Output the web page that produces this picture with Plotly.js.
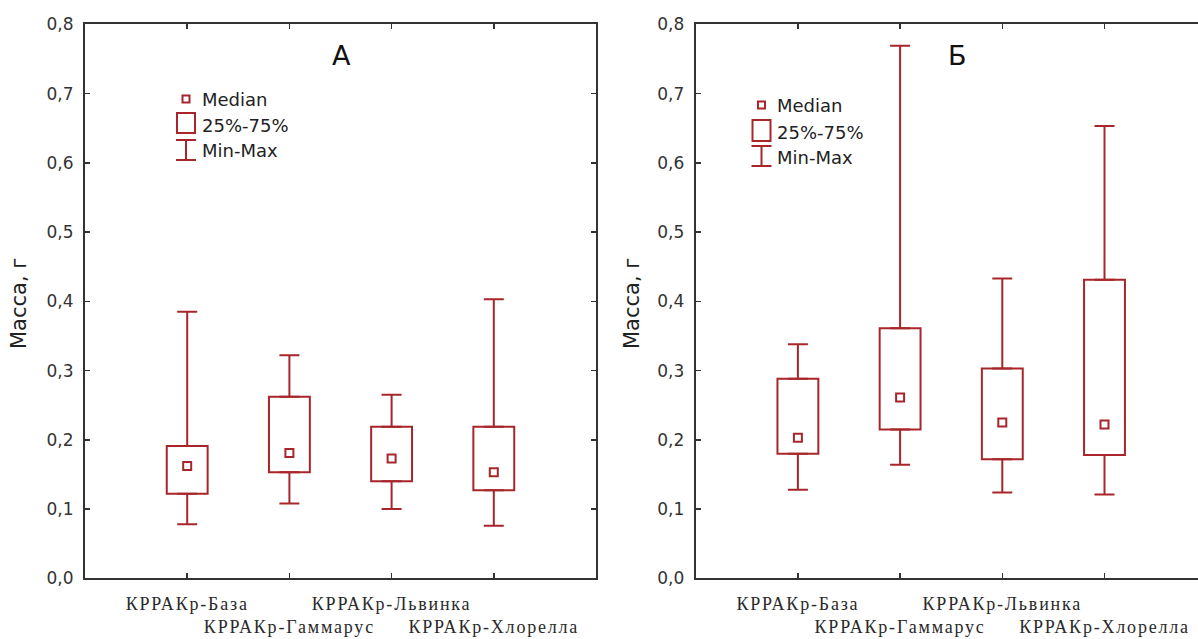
<!DOCTYPE html>
<html>
<head>
<meta charset="utf-8">
<script src="https://cdn.plot.ly/plotly-3.0.1.min.js"></script>
<style>
html,body{margin:0;padding:0;background:#fff;}
#chart{width:1198px;height:639px;}
.xtick text, .x2tick text { letter-spacing: 1.8px; }
</style>
</head>
<body>
<div id="chart"></div>
<script>
// ---- data ----
const categories = ['КРРАКр-База', 'КРРАКр-Гаммарус', 'КРРАКр-Львинка', 'КРРАКр-Хлорелла'];
const tickLabels = ['КРРАКр-База', '<br>КРРАКр-Гаммарус', 'КРРАКр-Львинка', '<br>КРРАКр-Хлорелла'];
const yTickVals = [0, 0.1, 0.2, 0.3, 0.4, 0.5, 0.6, 0.7, 0.8];

// Panel А
const aMin    = [0.078, 0.108, 0.100, 0.076];
const aQ1     = [0.122, 0.153, 0.140, 0.127];
const aMedian = [0.162, 0.181, 0.173, 0.153];
const aQ3     = [0.191, 0.262, 0.219, 0.219];
const aMax    = [0.385, 0.322, 0.265, 0.403];

// Panel Б
const bMin    = [0.128, 0.164, 0.124, 0.121];
const bQ1     = [0.180, 0.215, 0.172, 0.178];
const bMedian = [0.203, 0.261, 0.225, 0.222];
const bQ3     = [0.288, 0.361, 0.303, 0.431];
const bMax    = [0.338, 0.769, 0.433, 0.653];

// ---- styling ----
const RED = '#a8262b';
const AX = '#333333';
const W = 1198, H = 639;
const X = px => px / W;
const Y = py => 1 - py / H;
const SANS = 'DejaVu Sans, Arial, sans-serif';

function panel(xa, ya, mn, q1, md, q3, mx) {
  const box = {
    type: 'bar', x: categories, base: q1, y: q3.map((v, i) => v - q1[i]),
    width: 0.4, xaxis: xa, yaxis: ya,
    marker: {color: 'rgba(255,255,255,1)', line: {color: RED, width: 2}},
    hoverinfo: 'skip'
  };
  const upper = {
    type: 'scatter', mode: 'markers', x: categories, y: q3, xaxis: xa, yaxis: ya,
    marker: {size: 1, color: 'rgba(0,0,0,0)'},
    error_y: {type: 'data', symmetric: false, array: mx.map((v, i) => v - q3[i]),
              arrayminus: q3.map(() => 0), color: RED, thickness: 2, width: 10},
    hoverinfo: 'skip'
  };
  const lower = {
    type: 'scatter', mode: 'markers', x: categories, y: q1, xaxis: xa, yaxis: ya,
    marker: {size: 1, color: 'rgba(0,0,0,0)'},
    error_y: {type: 'data', symmetric: false, array: q1.map(() => 0),
              arrayminus: q1.map((v, i) => v - mn[i]), color: RED, thickness: 2, width: 10},
    hoverinfo: 'skip'
  };
  const med = {
    type: 'scatter', mode: 'markers', x: categories, y: md, xaxis: xa, yaxis: ya,
    marker: {symbol: 'square-open', size: 8, color: RED, line: {color: RED, width: 2}},
    hoverinfo: 'skip'
  };
  return [box, upper, lower, med];
}

const data = [].concat(
  panel('x', 'y', aMin, aQ1, aMedian, aQ3, aMax),
  panel('x2', 'y2', bMin, bQ1, bMedian, bQ3, bMax)
);

const xCommon = {
  type: 'category', categoryorder: 'array', categoryarray: categories,
  tickmode: 'array', tickvals: categories, ticktext: tickLabels, tickangle: 0,
  showline: true, linecolor: AX, linewidth: 2,
  ticks: 'inside', ticklen: 5, tickwidth: 1.5, tickcolor: AX,
  mirror: 'ticks', showgrid: false, zeroline: false,
  tickfont: {family: 'Liberation Serif, Times New Roman, serif', size: 18, color: '#2a2a2a'},
  ticklabelstandoff: 8, fixedrange: true
};
const yCommon = {
  range: [0, 0.8], tickmode: 'array', tickvals: yTickVals, tickformat: '.1f',
  showline: true, linecolor: AX, linewidth: 2,
  ticks: 'inside', ticklen: 5, tickwidth: 1.5, tickcolor: AX,
  showgrid: false, zeroline: false,
  tickfont: {family: SANS, size: 17, color: '#333'},
  ticklabelstandoff: 6, domain: [Y(578.3), Y(24.3)], fixedrange: true
};

const legendFont = {family: SANS, size: 18, color: '#222'};
function legend(cx, yMed, boxY0, boxY1, wY0, wY1, tx, ty) {
  const shapes = [
    {type: 'rect', xref: 'paper', yref: 'paper', x0: X(cx - 3.5), x1: X(cx + 3.5), y0: Y(yMed + 3.5), y1: Y(yMed - 3.5), line: {color: RED, width: 2}},
    {type: 'rect', xref: 'paper', yref: 'paper', x0: X(cx - 9), x1: X(cx + 9), y0: Y(boxY1), y1: Y(boxY0), line: {color: RED, width: 2}},
    {type: 'line', xref: 'paper', yref: 'paper', x0: X(cx), x1: X(cx), y0: Y(wY1), y1: Y(wY0), line: {color: RED, width: 2}},
    {type: 'line', xref: 'paper', yref: 'paper', x0: X(cx - 10), x1: X(cx + 10), y0: Y(wY0), y1: Y(wY0), line: {color: RED, width: 2}},
    {type: 'line', xref: 'paper', yref: 'paper', x0: X(cx - 10), x1: X(cx + 10), y0: Y(wY1), y1: Y(wY1), line: {color: RED, width: 2}}
  ];
  const labels = ['Median', '25%-75%', 'Min-Max'];
  const anns = labels.map((t, i) => ({
    text: t, xref: 'paper', yref: 'paper', x: X(tx), y: Y(ty[i]),
    xanchor: 'left', yanchor: 'middle', showarrow: false, font: legendFont
  }));
  return {shapes, anns};
}
const legA = legend(186, 99, 113, 133, 140, 160, 200, [99, 126, 151]);
const legB = legend(761.5, 105, 120, 141, 146, 166, 775, [105, 132, 157]);

const titleFont = {family: SANS, size: 27, color: '#111'};
const yTitleFont = {family: SANS, size: 21, color: '#222'};

const annotations = [
  {text: 'А', xref: 'paper', yref: 'paper', x: X(341.5), y: Y(55), xanchor: 'center', yanchor: 'middle', showarrow: false, font: titleFont},
  {text: 'Б', xref: 'paper', yref: 'paper', x: X(957), y: Y(55), xanchor: 'center', yanchor: 'middle', showarrow: false, font: titleFont},
  {text: 'Масса, г', xref: 'paper', yref: 'paper', x: X(19), y: Y(304), textangle: -90, xanchor: 'center', yanchor: 'middle', showarrow: false, font: yTitleFont},
  {text: 'Масса, г', xref: 'paper', yref: 'paper', x: X(632), y: Y(304), textangle: -90, xanchor: 'center', yanchor: 'middle', showarrow: false, font: yTitleFont}
].concat(legA.anns, legB.anns);

const layout = {
  width: W, height: H,
  margin: {l: 0, r: 0, t: 0, b: 0, pad: 0},
  paper_bgcolor: '#fff', plot_bgcolor: '#fff',
  showlegend: false, barmode: 'overlay',
  separators: ', ',
  xaxis: Object.assign({}, xCommon, {domain: [X(85), X(596)], range: [-1, 4], anchor: 'y'}),
  yaxis: Object.assign({}, yCommon, {mirror: 'ticks', anchor: 'x'}),
  xaxis2: Object.assign({}, xCommon, {domain: [X(695.7), 1], range: [-1, -1 + (1198 - 695.7) / 102.2], anchor: 'y2'}),
  yaxis2: Object.assign({}, yCommon, {mirror: false, anchor: 'x2'}),
  shapes: legA.shapes.concat(legB.shapes),
  annotations: annotations
};

Plotly.newPlot('chart', data, layout, {displayModeBar: false, staticPlot: true});
</script>
</body>
</html>
